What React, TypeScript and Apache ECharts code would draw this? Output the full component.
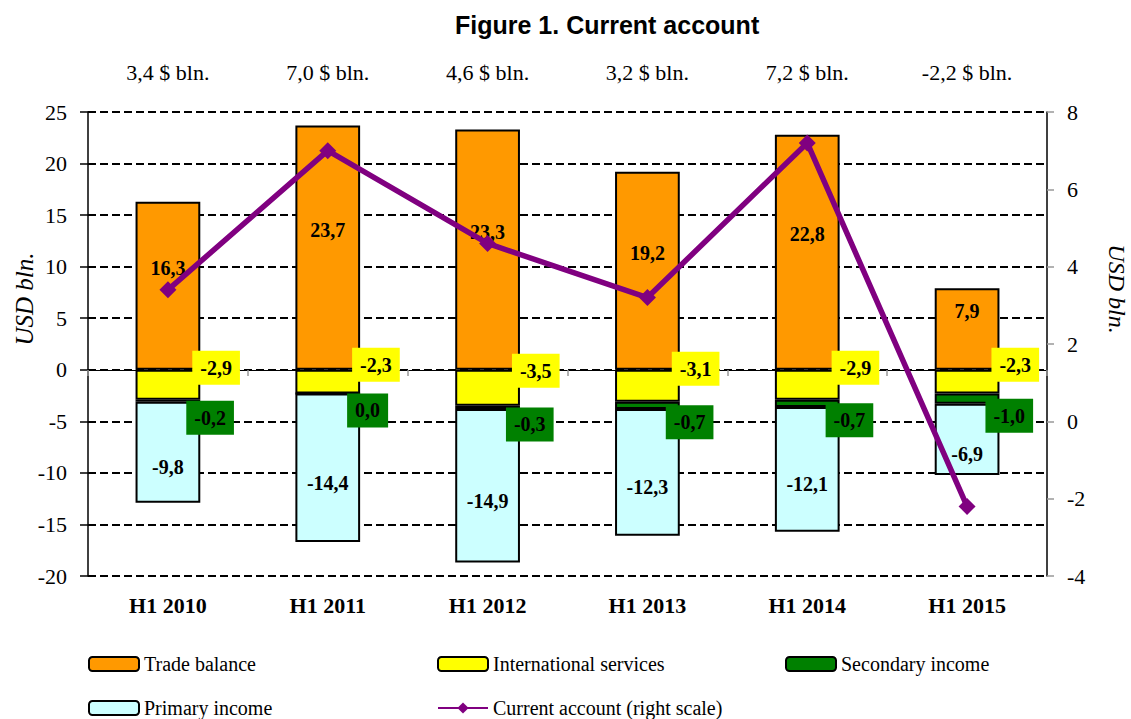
import React, { useEffect, useRef } from "react";
import * as echarts from "echarts";

const categories = ["H1 2010", "H1 2011", "H1 2012", "H1 2013", "H1 2014", "H1 2015"];
const tradeBalance = [16.3, 23.7, 23.3, 19.2, 22.8, 7.9];
const internationalServices = [-2.9, -2.3, -3.5, -3.1, -2.9, -2.3];
const secondaryIncome = [-0.2, 0.0, -0.3, -0.7, -0.7, -1.0];
const primaryIncome = [-9.8, -14.4, -14.9, -12.3, -12.1, -6.9];
const currentAccount = [3.4, 7.0, 4.6, 3.2, 7.2, -2.2];
const topLabels = currentAccount.map((v) => v.toFixed(1).replace(".", ",") + " $ bln.");
const axisName = "USD bln.";

const SERIF = "'Liberation Serif', 'Times New Roman', serif";
const fmt = (p: any) => Number(p.value).toFixed(1).replace(".", ",");

export default function App() {
  const ref = useRef<HTMLDivElement>(null);
  useEffect(() => {
    if (!ref.current) return;
    const chart = echarts.init(ref.current, null, { renderer: "svg" });
    const barBase = {
      type: "bar",
      stack: "total",
      barWidth: "40.5%",
      xAxisIndex: 0,
      yAxisIndex: 0,
    };
    const labelFont = {
      fontFamily: SERIF,
      fontSize: 20,
      fontWeight: "bold",
      color: "#000",
      formatter: fmt,
    };
    const legendBase = {
      orient: "vertical",
      top: 654,
      height: 90,
      padding: 0,
      itemGap: 24,
      itemWidth: 50,
      itemHeight: 14,
      selectedMode: false,
      textStyle: { fontFamily: SERIF, fontSize: 20, color: "#000" },
    };
    const nameStyle = {
      text: axisName,
      fontFamily: SERIF,
      fontSize: 25,
      fontStyle: "italic",
      fill: "#000",
      align: "center",
      verticalAlign: "middle",
    };
    chart.setOption({
      animation: false,
      backgroundColor: "#fff",
      title: {
        text: "Figure 1. Current account",
        left: 455,
        top: 12,
        padding: 0,
        textStyle: { fontFamily: "'Liberation Sans', Arial, sans-serif", fontWeight: "bold", fontSize: 25, color: "#000" },
      },
      graphic: [
        { type: "text", x: 24, y: 299, rotation: Math.PI / 2, style: { ...nameStyle } },
        { type: "text", x: 1117, y: 289, rotation: -Math.PI / 2, style: { ...nameStyle, fontSize: 24 } },
      ],
      legend: [
        { ...legendBase, data: ["Trade balance", "Primary income"], left: 88 },
        { ...legendBase, data: ["International services", "Current account (right scale)"], left: 437 },
        { ...legendBase, data: ["Secondary income"], left: 785 },
      ],
      grid: { left: 88, right: 84, top: 112, bottom: 143, containLabel: false, outerBoundsMode: "none" },
      xAxis: [
        {
          type: "category",
          data: categories,
          position: "bottom",
          offset: -206,
          axisLine: { onZero: false, lineStyle: { color: "#000", width: 1 } },
          axisTick: { show: true, length: 6, lineStyle: { color: "#999", width: 1.5 } },
          axisLabel: { margin: 224, fontFamily: SERIF, fontSize: 22, fontWeight: "bold", color: "#000" },
        },
        {
          type: "category",
          data: topLabels,
          position: "top",
          axisLine: { show: false },
          axisTick: { show: false },
          axisLabel: { margin: 29, fontFamily: SERIF, fontSize: 22, color: "#000" },
        },
      ],
      yAxis: [
        {
          type: "value",
          min: -20,
          max: 25,
          interval: 5,
          axisLine: { show: true, lineStyle: { color: "#000", width: 1.5 } },
          axisTick: { show: true, length: 8, lineStyle: { color: "#000", width: 1.5 } },
          axisLabel: { margin: 21, fontFamily: SERIF, fontSize: 22, color: "#000" },
          splitLine: { show: true, lineStyle: { color: "#000", width: 2, type: [8, 4] } },
        },
        {
          type: "value",
          min: -4,
          max: 8,
          interval: 2,
          position: "right",
          axisLine: { show: true, lineStyle: { color: "#000", width: 1.5 } },
          axisTick: { show: true, length: 7, lineStyle: { color: "#999", width: 1.5 } },
          axisLabel: { margin: 20, fontFamily: SERIF, fontSize: 22, color: "#000" },
          splitLine: { show: false },
        },
      ],
      series: [
        {
          ...barBase,
          name: "Trade balance",
          data: tradeBalance,
          itemStyle: { color: "#FF9900", borderColor: "#000", borderWidth: 2 },
          label: { show: true, position: "inside", offset: [0, -18], ...labelFont },
        },
        {
          ...barBase,
          name: "International services",
          data: internationalServices,
          itemStyle: { color: "#FFFF00", borderColor: "#000", borderWidth: 2 },
          label: {
            show: true,
            position: "right",
            distance: 5,
            offset: [-13, -17],
            backgroundColor: "#FFFF00",
            padding: [7, 8],
            ...labelFont,
          },
        },
        {
          ...barBase,
          name: "Secondary income",
          data: secondaryIncome,
          itemStyle: { color: "#008000", borderColor: "#000", borderWidth: 2 },
          label: {
            show: true,
            position: "right",
            distance: 5,
            offset: [-19, 17],
            backgroundColor: "#008000",
            padding: [7, 8],
            ...labelFont,
          },
        },
        {
          ...barBase,
          name: "Primary income",
          data: primaryIncome,
          itemStyle: { color: "#CCFFFF", borderColor: "#000", borderWidth: 2 },
          label: { show: true, position: "inside", offset: [0, 15], ...labelFont },
        },
        {
          type: "line",
          name: "Current account (right scale)",
          data: currentAccount,
          xAxisIndex: 0,
          yAxisIndex: 1,
          z: 5,
          symbol: "diamond",
          symbolSize: 17,
          lineStyle: { color: "#800080", width: 5.5 },
          itemStyle: { color: "#800080" },
        },
      ],
    });
    return () => chart.dispose();
  }, []);
  return <div ref={ref} style={{ position: "absolute", left: 0, top: 0, width: 1131, height: 719 }} />;
}
